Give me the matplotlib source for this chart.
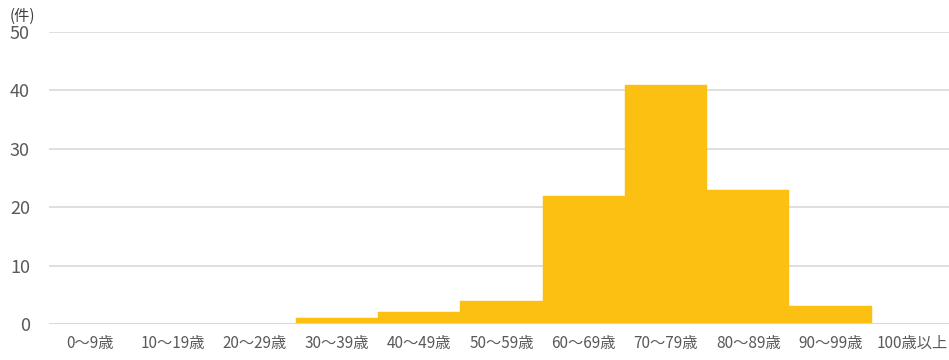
import matplotlib
matplotlib.use("Agg")
import matplotlib.pyplot as plt

plt.rcParams['font.family'] = ['Noto Sans CJK JP', 'DejaVu Sans']

categories = ['0〜9歳', '10〜19歳', '20〜29歳', '30〜39歳', '40〜49歳', '50〜59歳',
              '60〜69歳', '70〜79歳', '80〜89歳', '90〜99歳', '100歳以上']
counts = [0, 0, 0, 1, 2, 4, 22, 41, 23, 3, 0]
yticks = [0, 10, 20, 30, 40, 50]

fig = plt.figure(figsize=(9.49, 3.6), dpi=100)
ax = fig.add_axes([0.052, 0.1, 0.953, 0.811])

x = range(len(categories))
ax.bar(x, counts, width=1.0, color='#FBC012', edgecolor='#FBC012', linewidth=0.3, zorder=3)

ax.set_xlim(-0.5, len(categories) - 0.5)
ax.set_ylim(0, 50)
ax.set_yticks(yticks)
ax.set_xticks(list(x))
ax.set_xticklabels(categories, fontsize=11, color='#595959')
ax.tick_params(axis='y', labelsize=13, labelcolor='#595959', length=0, pad=14)
ax.tick_params(axis='x', length=0, pad=8)
ax.grid(axis='y', color='#D9D9D9', linewidth=1.2, zorder=0)
for s in ax.spines.values():
    s.set_visible(False)
ax.axhline(0, color='#D9D9D9', linewidth=1.2, zorder=4)

fig.text(0.01, 0.955, '(件)', fontsize=11, color='#404040', va='center', ha='left')

fig.savefig('out.png', dpi=100)
